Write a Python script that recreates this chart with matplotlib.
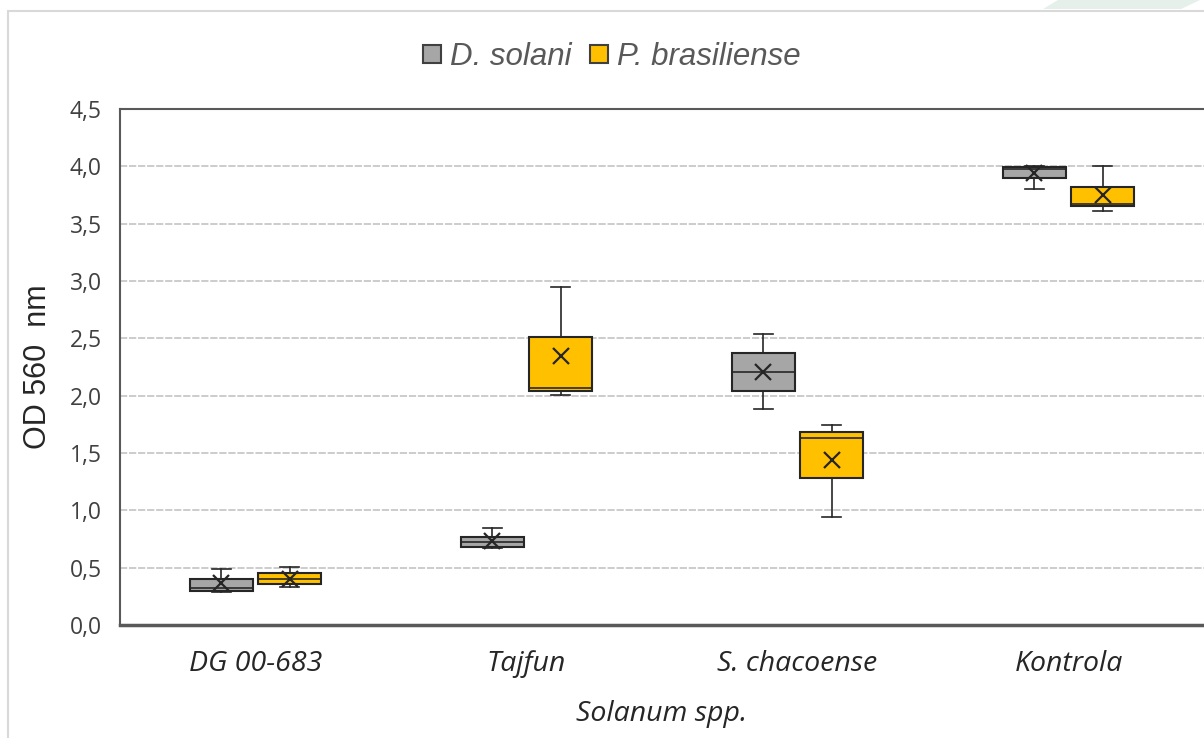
import matplotlib.pyplot as plt
from matplotlib.patches import Patch, Rectangle, Polygon

categories = ['DG 00-683', 'Tajfun', 'S. chacoense', 'Kontrola']
series = ['D. solani', 'P. brasiliense']

# five-number summaries + mean, one list per category
solani_lo = [0.29, 0.67, 1.88, 3.80]
solani_q1 = [0.30, 0.68, 2.04, 3.90]
solani_med = [0.32, 0.72, 2.21, 3.98]
solani_q3 = [0.40, 0.77, 2.37, 3.99]
solani_hi = [0.49, 0.85, 2.54, 4.00]
solani_mean = [0.37, 0.73, 2.21, 3.94]

bras_lo = [0.33, 2.01, 0.94, 3.61]
bras_q1 = [0.36, 2.04, 1.28, 3.65]
bras_med = [0.40, 2.07, 1.63, 3.67]
bras_q3 = [0.45, 2.51, 1.68, 3.82]
bras_hi = [0.51, 2.95, 1.74, 4.00]
bras_mean = [0.40, 2.35, 1.44, 3.75]

yticks = [0.0, 0.5, 1.0, 1.5, 2.0, 2.5, 3.0, 3.5, 4.0, 4.5]
colors = ['#a6a6a6', '#ffc000']


def make_stats(lo, q1, med, q3, hi, mean):
    out = []
    for i in range(len(lo)):
        out.append(dict(whislo=lo[i], q1=q1[i], med=med[i], q3=q3[i],
                        whishi=hi[i], mean=mean[i], fliers=[]))
    return out


stats = [make_stats(solani_lo, solani_q1, solani_med, solani_q3, solani_hi, solani_mean),
         make_stats(bras_lo, bras_q1, bras_med, bras_q3, bras_hi, bras_mean)]

fig = plt.figure(figsize=(12.04, 7.38), dpi=100)

# outer chart frame and decorative corner
fig.patches.append(Rectangle((8 / 1204, -0.05), 1.2, 1 - 11 / 738 + 0.05,
                             transform=fig.transFigure, fill=False,
                             edgecolor='#d9d9d9', lw=1.5))
fig.patches.append(Polygon([(1043 / 1204, 1 - 9 / 738), (1058 / 1204, 1.0),
                            (1200 / 1204, 1.0), (1181 / 1204, 1 - 9 / 738)],
                           closed=True, transform=fig.transFigure,
                           facecolor='#e6f0ea', edgecolor='none'))

ax = fig.add_axes([120 / 1204, 113 / 738, 1 - 120 / 1204, 516 / 738])

offsets = [-0.126, 0.126]
for s in range(2):
    pos = [i + offsets[s] for i in range(len(categories))]
    ax.bxp(stats[s], positions=pos, widths=0.232, capwidths=0.07,
           patch_artist=True, showmeans=True, showfliers=False,
           boxprops=dict(facecolor=colors[s], edgecolor='#262626', lw=1.5),
           medianprops=dict(color='#262626', lw=1.2),
           whiskerprops=dict(color='#262626', lw=1.2),
           capprops=dict(color='#262626', lw=1.2),
           meanprops=dict(marker='x', markersize=11, markeredgewidth=1.6,
                          markeredgecolor='#262626'),
           zorder=3)

ax.set_xlim(-0.5, 3.5)
ax.set_ylim(0, 4.5)
ax.set_xticks(range(len(categories)))
ax.set_xticklabels(categories, fontsize=20.5, fontstyle='italic',
                   family='Open Sans', color='#262626')
ax.set_yticks(yticks)
ax.set_yticklabels([f'{v:.1f}'.replace('.', ',') for v in yticks],
                   fontsize=16.5, family='Open Sans', color='#404040')
ax.tick_params(length=0, pad=13)
ax.tick_params(axis='x', pad=18)
ax.yaxis.grid(True, color='#c8c8c8', lw=1.3, ls=(0, (4, 1)), zorder=0)
ax.set_axisbelow(True)

for side in ['left', 'top']:
    ax.spines[side].set_color('#595959')
    ax.spines[side].set_linewidth(1.5)
ax.spines['bottom'].set_color('#595959')
ax.spines['bottom'].set_linewidth(2.5)
ax.spines['right'].set_visible(False)

ax.set_ylabel('OD 560  nm', fontsize=22, family='Liberation Sans',
              color='#262626', labelpad=12)
ax.set_xlabel('Solanum spp.', fontsize=20.5, fontstyle='italic',
              family='Open Sans', color='#262626', labelpad=16)

handles = [Patch(facecolor=colors[s], edgecolor='#404040', lw=1.5) for s in range(2)]
fig.legend(handles, series, loc='center', bbox_to_anchor=(612 / 1204, 1 - 57 / 738),
           ncol=2, frameon=False, handlelength=0.55, handleheight=0.55,
           handletextpad=0.3, columnspacing=0.6,
           prop=dict(family='Liberation Sans', style='italic', size=22.5),
           labelcolor='#595959')

fig.savefig('out.png', dpi=100)
